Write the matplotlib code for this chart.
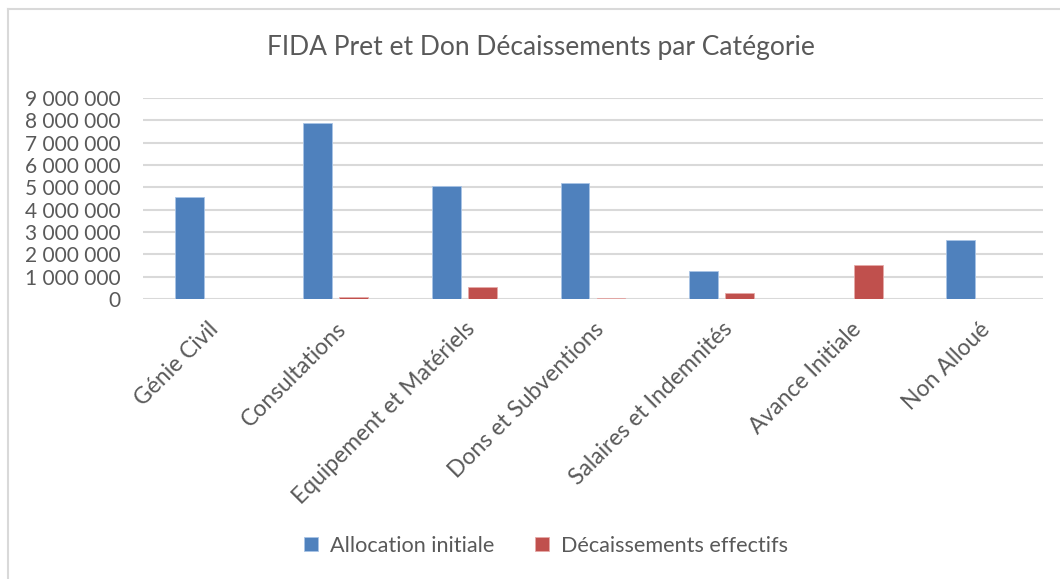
import matplotlib
matplotlib.use("Agg")

import matplotlib.pyplot as plt
import matplotlib.ticker as mticker
import numpy as np

plt.rcParams["font.family"] = ["Lato", "DejaVu Sans"]

categories = [
    "Génie Civil",
    "Consultations",
    "Equipement et Matériels",
    "Dons et Subventions",
    "Salaires et Indemnités",
    "Avance Initiale",
    "Non Alloué",
]
allocation = [4580000, 7900000, 5060000, 5180000, 1240000, 0, 2660000]
decaissements = [0, 90000, 540000, 25000, 270000, 1540000, 0]
series_names = ["Allocation initiale", "Décaissements effectifs"]

BLUE = "#4F81BD"
RED = "#C0504D"
TEXT = "#595959"
GRID = "#D9D9D9"

fig = plt.figure(figsize=(10.6, 5.79), dpi=100)
ax = fig.add_axes([143 / 1060, 1 - 299 / 579, 900 / 1060, (299 - 98) / 579])

x = np.arange(len(categories))
width = 0.225
off = 0.14
ax.bar(x - off, allocation, width, color=BLUE, edgecolor="#A9C4E6",
       linewidth=0.6, label=series_names[0], zorder=3)
ax.bar(x + off, decaissements, width, color=RED, edgecolor="#E6AAA8",
       linewidth=0.6, label=series_names[1], zorder=3)

ax.set_xlim(-0.5, len(categories) - 0.5)
ax.set_ylim(0, 9000000)
ax.set_yticks(np.arange(0, 9000001, 1000000))
ax.yaxis.set_major_formatter(
    mticker.FuncFormatter(lambda v, p: f"{int(v):,}".replace(",", " ")))
ax.grid(axis="y", color=GRID, linewidth=1.5, zorder=0)
ax.set_axisbelow(True)
for s in ax.spines.values():
    s.set_visible(False)
ax.tick_params(axis="y", length=0, pad=16, labelsize=15, labelcolor=TEXT)
ax.tick_params(axis="x", length=0, pad=14, labelsize=16.5, labelcolor=TEXT)
ax.set_xticks(x)
ax.set_xticklabels(categories, rotation=45, ha="right", va="top",
                   rotation_mode="anchor")

fig.text(0.51, 1 - 48 / 579, "FIDA Pret et Don Décaissements par Catégorie",
         ha="center", va="center", fontsize=19, color=TEXT)

leg = fig.legend(loc="center", bbox_to_anchor=(0.515, 1 - 546 / 579), ncol=2,
                 frameon=False, fontsize=15.6, handlelength=0.62,
                 handleheight=0.62, handletextpad=0.55, columnspacing=1.9)
for t in leg.get_texts():
    t.set_color(TEXT)

# chart border (top and left edges visible)
fig.add_artist(plt.Line2D([8 / 1060, 1], [1 - 9 / 579, 1 - 9 / 579],
                          transform=fig.transFigure, color=GRID, linewidth=1.5))
fig.add_artist(plt.Line2D([8 / 1060, 8 / 1060], [0, 1 - 9 / 579],
                          transform=fig.transFigure, color=GRID, linewidth=1.5))

fig.savefig("out.png", dpi=100)
